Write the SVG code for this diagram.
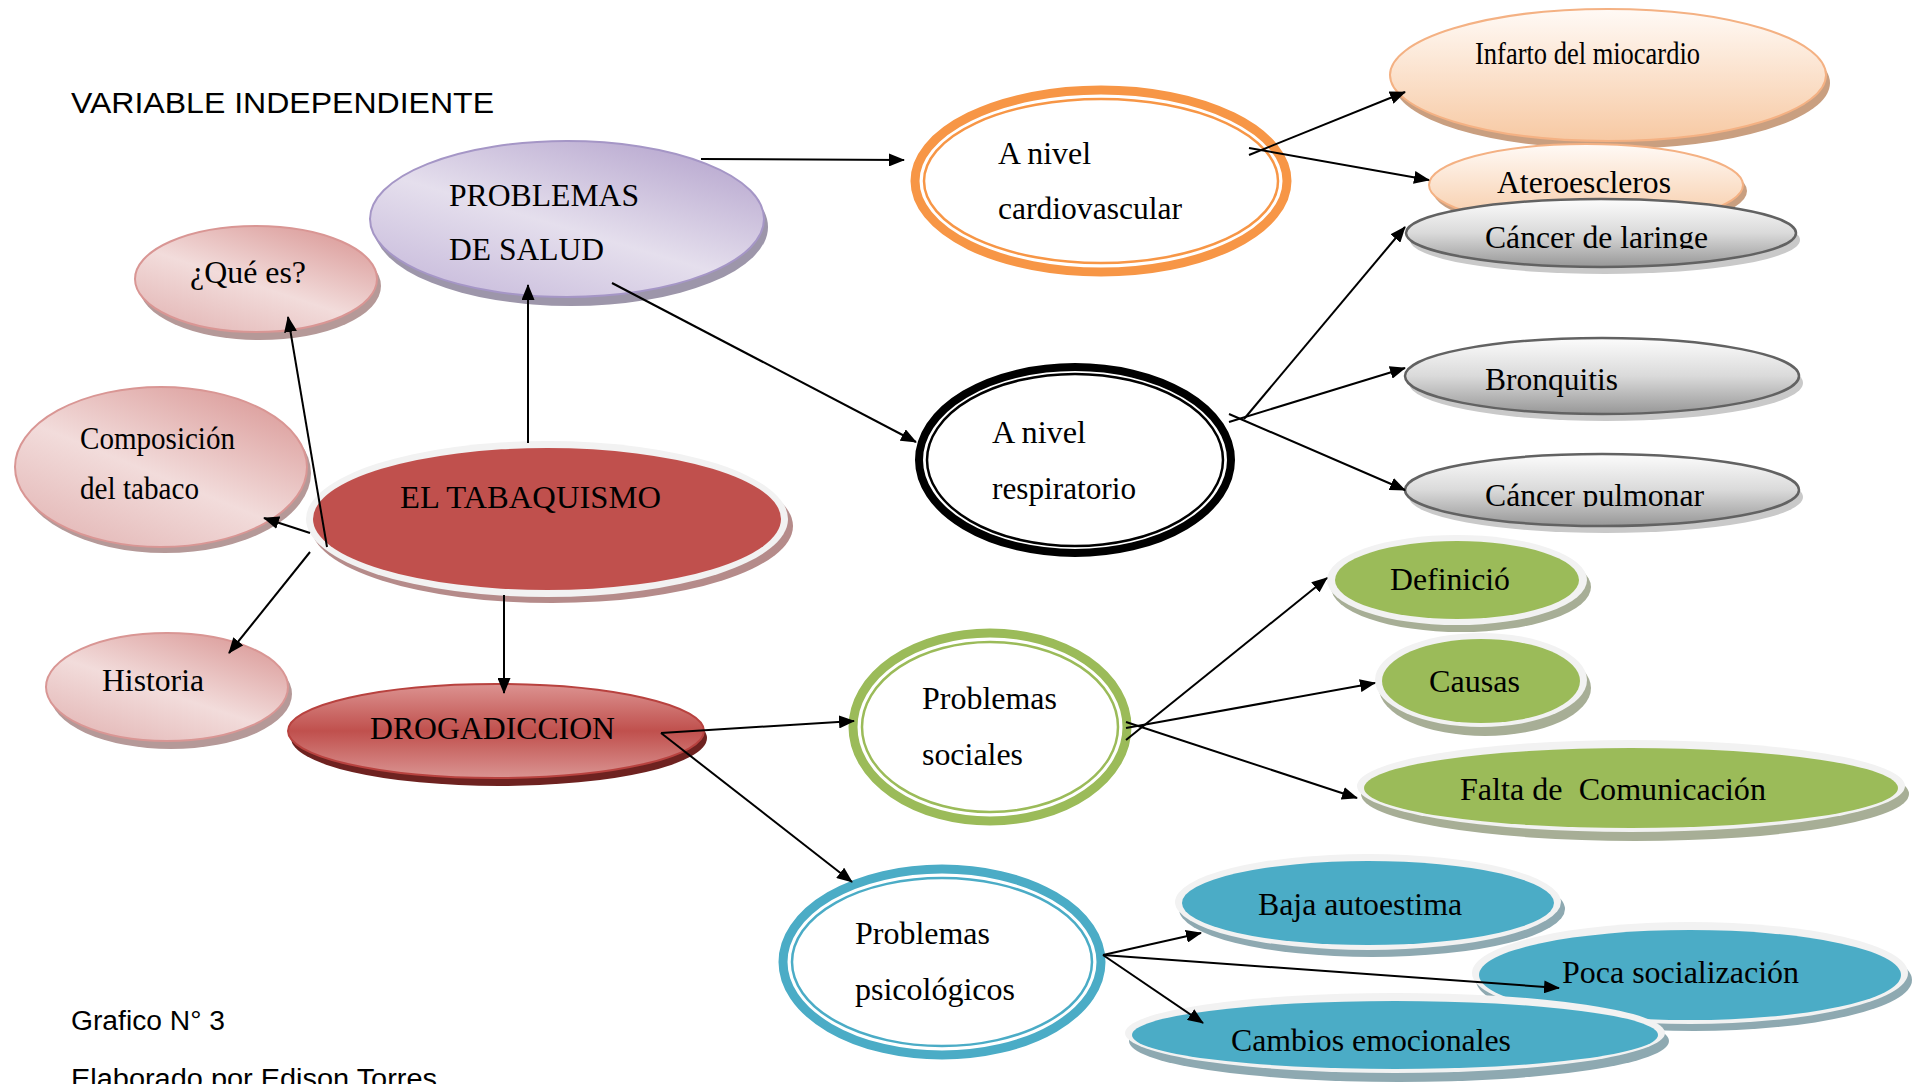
<svg xmlns="http://www.w3.org/2000/svg" width="1922" height="1084" viewBox="0 0 1922 1084">
<defs>
<linearGradient id="gPink" x1="0.9" y1="0" x2="0.15" y2="1">
<stop offset="0" stop-color="#d99694"/><stop offset="0.55" stop-color="#f2dcdb"/><stop offset="1" stop-color="#e3b6b5"/>
</linearGradient>
<linearGradient id="gLav" x1="0.9" y1="0" x2="0.15" y2="1">
<stop offset="0" stop-color="#b3a2cc"/><stop offset="0.55" stop-color="#e5dfed"/><stop offset="1" stop-color="#c7badb"/>
</linearGradient>
<linearGradient id="gDrog" x1="0" y1="0" x2="0" y2="1">
<stop offset="0" stop-color="#dc9391"/><stop offset="0.5" stop-color="#c0504d"/><stop offset="1" stop-color="#da9492"/>
</linearGradient>
<linearGradient id="gPeach" x1="0" y1="0" x2="0" y2="1">
<stop offset="0" stop-color="#fffaf6"/><stop offset="1" stop-color="#f7c9a3"/>
</linearGradient>
<linearGradient id="gGray" x1="0" y1="0" x2="0" y2="1">
<stop offset="0" stop-color="#fcfcfc"/><stop offset="0.5" stop-color="#dadada"/><stop offset="1" stop-color="#979797"/>
</linearGradient>
<marker id="arr" markerUnits="userSpaceOnUse" markerWidth="16" markerHeight="13" refX="15" refY="6.5" orient="auto">
<path d="M0,0 L16,6.5 L0,13 z" fill="#000"/>
</marker>
<clipPath id="clipLar"><rect x="1400" y="200" width="400" height="49"/></clipPath>
<clipPath id="clipPul"><rect x="1400" y="455" width="400" height="52"/></clipPath>
</defs>
<style>
.t{font-family:"Liberation Serif","Times New Roman",serif;font-size:31px;fill:#000}
.s{font-family:"Liberation Sans",Arial,sans-serif;fill:#000}
.pink{fill:url(#gPink);stroke:#d99694;stroke-width:2}
.pinkSh{fill:#b59998}
.lav{fill:url(#gLav);stroke:#a596c6;stroke-width:2}
.lavSh{fill:#9d96aa}
.peach{fill:url(#gPeach);stroke:#f4b183;stroke-width:2}
.peachSh{fill:#c99f80}
.gray{fill:url(#gGray);stroke:#626262;stroke-width:2.5}
.graySh{fill:#c9c9c9}
.rim{fill:#f2f2f2}
.green{fill:#9bbb59}
.greenSh{fill:#a7ae96}
.blue{fill:#4bacc6}
.blueSh{fill:#8ea9b1}
.ring{fill:#fff}
.c line{stroke:#000;stroke-width:2;marker-end:url(#arr)}
</style>
<rect width="1922" height="1084" fill="#fff"/>

<text class="s" x="71" y="113" font-size="29" textLength="423" lengthAdjust="spacingAndGlyphs">VARIABLE INDEPENDIENTE</text>

<g id="problemas-salud">
<ellipse class="lavSh" cx="571" cy="227" rx="197" ry="79"/>
<ellipse class="lav" cx="567" cy="219" rx="197" ry="78"/>
<text class="t" x="449" y="206" textLength="190" lengthAdjust="spacingAndGlyphs">PROBLEMAS</text>
<text class="t" x="449" y="260" textLength="155" lengthAdjust="spacingAndGlyphs">DE SALUD</text>
</g>

<g id="que-es">
<ellipse class="pinkSh" cx="260" cy="286" rx="121" ry="54"/>
<ellipse class="pink" cx="256" cy="279" rx="121" ry="53"/>
<text class="t" x="190" y="283" textLength="116" lengthAdjust="spacingAndGlyphs">¿Qué es?</text>
</g>

<g id="composicion">
<ellipse class="pinkSh" cx="165" cy="473" rx="146" ry="80"/>
<ellipse class="pink" cx="161" cy="467" rx="146" ry="80"/>
<text class="t" x="80" y="449" font-size="30" textLength="155" lengthAdjust="spacingAndGlyphs">Composición</text>
<text class="t" x="80" y="499" font-size="30" textLength="119" lengthAdjust="spacingAndGlyphs">del tabaco</text>
</g>

<g id="historia">
<ellipse class="pinkSh" cx="171" cy="694" rx="121" ry="55"/>
<ellipse class="pink" cx="167" cy="687" rx="121" ry="54"/>
<text class="t" x="102" y="691" textLength="102" lengthAdjust="spacingAndGlyphs">Historia</text>
</g>

<g id="tabaquismo">
<ellipse fill="#b58b8a" cx="552" cy="526" rx="241" ry="77"/>
<ellipse class="rim" cx="547" cy="519" rx="241" ry="78"/>
<ellipse fill="#c0504d" cx="547" cy="519" rx="234" ry="71"/>
<text class="t" x="400" y="508" textLength="261" lengthAdjust="spacingAndGlyphs">EL TABAQUISMO</text>
</g>

<g id="drogadiccion">
<ellipse fill="#6e2220" cx="499" cy="738" rx="208" ry="48"/>
<ellipse fill="url(#gDrog)" stroke="#b8423f" stroke-width="2" cx="496" cy="731" rx="208" ry="47"/>
<text class="t" x="370" y="739" textLength="245" lengthAdjust="spacingAndGlyphs">DROGADICCION</text>
</g>

<g id="cardiovascular">
<ellipse class="ring" stroke="#f79646" stroke-width="9" cx="1101" cy="181" rx="186" ry="91"/>
<ellipse fill="none" stroke="#f79646" stroke-width="2.5" cx="1101" cy="181" rx="177" ry="82"/>
<text class="t" x="998" y="164" textLength="93" lengthAdjust="spacingAndGlyphs">A nivel</text>
<text class="t" x="998" y="219" textLength="184" lengthAdjust="spacingAndGlyphs">cardiovascular</text>
</g>

<g id="infarto">
<ellipse class="peachSh" cx="1612" cy="83" rx="218" ry="66"/>
<ellipse class="peach" cx="1608" cy="75" rx="218" ry="66"/>
<text class="t" x="1475" y="64" font-size="26" textLength="225" lengthAdjust="spacingAndGlyphs">Infarto del miocardio</text>
</g>

<g id="ateroescleros">
<ellipse class="peachSh" cx="1590" cy="191" rx="157" ry="41"/>
<ellipse class="peach" cx="1586" cy="185" rx="157" ry="41"/>
<text class="t" x="1497" y="193" textLength="174" lengthAdjust="spacingAndGlyphs">Ateroescleros</text>
</g>

<g id="cancer-laringe">
<ellipse class="graySh" cx="1605" cy="240" rx="195" ry="34"/>
<ellipse class="gray" cx="1601" cy="233" rx="195" ry="34"/>
<text class="t" x="1485" y="248" clip-path="url(#clipLar)" textLength="223" lengthAdjust="spacingAndGlyphs">Cáncer de laringe</text>
</g>

<g id="respiratorio">
<ellipse class="ring" stroke="#000" stroke-width="8" cx="1075" cy="460" rx="156" ry="93"/>
<ellipse fill="none" stroke="#000" stroke-width="2.5" cx="1075" cy="460" rx="148" ry="86"/>
<text class="t" x="992" y="443" textLength="94" lengthAdjust="spacingAndGlyphs">A nivel</text>
<text class="t" x="992" y="499" textLength="144" lengthAdjust="spacingAndGlyphs">respiratorio</text>
</g>

<g id="bronquitis">
<ellipse class="graySh" cx="1606" cy="383" rx="197" ry="38"/>
<ellipse class="gray" cx="1602" cy="376" rx="197" ry="38"/>
<text class="t" x="1485" y="390" textLength="133" lengthAdjust="spacingAndGlyphs">Bronquitis</text>
</g>

<g id="cancer-pulmonar">
<ellipse class="graySh" cx="1606" cy="497" rx="197" ry="36"/>
<ellipse class="gray" cx="1602" cy="490" rx="197" ry="36"/>
<text class="t" x="1485" y="506" clip-path="url(#clipPul)" textLength="219" lengthAdjust="spacingAndGlyphs">Cáncer pulmonar</text>
</g>

<g id="sociales">
<ellipse class="ring" stroke="#9bbb59" stroke-width="9" cx="990" cy="727" rx="137" ry="94"/>
<ellipse fill="none" stroke="#9bbb59" stroke-width="2.5" cx="990" cy="727" rx="128" ry="85"/>
<text class="t" x="922" y="709" textLength="135" lengthAdjust="spacingAndGlyphs">Problemas</text>
<text class="t" x="922" y="765" textLength="101" lengthAdjust="spacingAndGlyphs">sociales</text>
</g>

<g id="definicion">
<ellipse class="greenSh" cx="1461" cy="587" rx="130" ry="45"/>
<ellipse class="rim" cx="1457" cy="580" rx="130" ry="45"/>
<ellipse class="green" cx="1457" cy="580" rx="122" ry="39"/>
<text class="t" x="1390" y="590" textLength="120" lengthAdjust="spacingAndGlyphs">Definició</text>
</g>

<g id="causas">
<ellipse class="greenSh" cx="1485" cy="688" rx="106" ry="48"/>
<ellipse class="rim" cx="1481" cy="680" rx="106" ry="47"/>
<ellipse class="green" cx="1481" cy="681" rx="99" ry="42"/>
<text class="t" x="1429" y="692" textLength="91" lengthAdjust="spacingAndGlyphs">Causas</text>
</g>

<g id="falta-comunicacion">
<ellipse class="greenSh" cx="1635" cy="794" rx="274" ry="47"/>
<ellipse class="rim" cx="1631" cy="786" rx="274" ry="46"/>
<ellipse class="green" cx="1631" cy="788" rx="267" ry="40"/>
<text class="t" x="1460" y="800" style="white-space:pre" textLength="306" lengthAdjust="spacingAndGlyphs">Falta de  Comunicación</text>
</g>

<g id="psicologicos">
<ellipse class="ring" stroke="#4bacc6" stroke-width="9" cx="942" cy="962" rx="159" ry="93"/>
<ellipse fill="none" stroke="#4bacc6" stroke-width="2.5" cx="942" cy="962" rx="150" ry="84"/>
<text class="t" x="855" y="944" textLength="135" lengthAdjust="spacingAndGlyphs">Problemas</text>
<text class="t" x="855" y="1000" textLength="160" lengthAdjust="spacingAndGlyphs">psicológicos</text>
</g>

<g id="baja-autoestima">
<ellipse class="blueSh" cx="1372" cy="909" rx="193" ry="48"/>
<ellipse class="rim" cx="1368" cy="902" rx="193" ry="48"/>
<ellipse class="blue" cx="1368" cy="903" rx="186" ry="42"/>
<text class="t" x="1258" y="915" textLength="204" lengthAdjust="spacingAndGlyphs">Baja autoestima</text>
</g>

<g id="poca-socializacion">
<ellipse class="blueSh" cx="1694" cy="980" rx="218" ry="51"/>
<ellipse class="rim" cx="1690" cy="973" rx="218" ry="51"/>
<ellipse class="blue" cx="1690" cy="975" rx="211" ry="45"/>
<text class="t" x="1562" y="983" textLength="237" lengthAdjust="spacingAndGlyphs">Poca socialización</text>
</g>

<g id="cambios-emocionales">
<ellipse class="blueSh" cx="1399" cy="1041" rx="270" ry="41"/>
<ellipse class="rim" cx="1395" cy="1033" rx="270" ry="40"/>
<ellipse class="blue" cx="1395" cy="1035" rx="263" ry="34"/>
<text class="t" x="1231" y="1051" textLength="280" lengthAdjust="spacingAndGlyphs">Cambios emocionales</text>
</g>

<g id="connectors" class="c">
<line x1="701" y1="159" x2="904" y2="160"/>
<line x1="1249" y1="155" x2="1405" y2="92" stroke-width="2.5"/>
<line x1="1249" y1="148" x2="1429" y2="180" stroke-width="2.5"/>
<line x1="612" y1="283" x2="916" y2="442"/>
<line x1="1244" y1="419" x2="1405" y2="227"/>
<line x1="1229" y1="422" x2="1405" y2="368" stroke-width="2.5"/>
<line x1="1229" y1="414" x2="1405" y2="490" stroke-width="2.5"/>
<line x1="528" y1="443" x2="528" y2="285"/>
<line x1="327" y1="547" x2="288" y2="317"/>
<line x1="310" y1="533" x2="264" y2="518" stroke-width="2.5"/>
<line x1="310" y1="552" x2="229" y2="653" stroke-width="2.5"/>
<line x1="504" y1="595" x2="504" y2="693"/>
<line x1="661" y1="733" x2="854" y2="721" stroke-width="2.5"/>
<line x1="661" y1="733" x2="852" y2="882" stroke-width="2.5"/>
<line x1="1126" y1="740" x2="1327" y2="578"/>
<line x1="1126" y1="728" x2="1375" y2="683" stroke-width="2.5"/>
<line x1="1126" y1="722" x2="1357" y2="798" stroke-width="2.5"/>
<line x1="1103" y1="955" x2="1201" y2="933" stroke-width="2.5"/>
<line x1="1103" y1="955" x2="1559" y2="988" stroke-width="3"/>
<line x1="1103" y1="955" x2="1203" y2="1023"/>
</g>

<text class="s" x="71" y="1030" font-size="27" textLength="154" lengthAdjust="spacingAndGlyphs">Grafico N° 3</text>
<text class="s" x="71" y="1088" font-size="27" textLength="366" lengthAdjust="spacingAndGlyphs">Elaborado por Edison Torres</text>
</svg>
